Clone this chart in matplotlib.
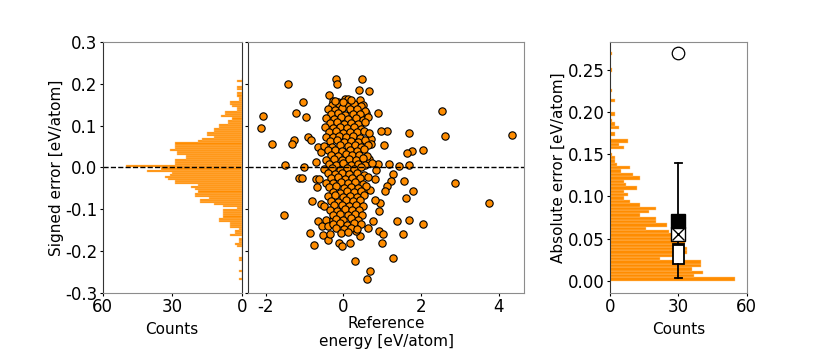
import numpy as np
import matplotlib
matplotlib.use("Agg")
from matplotlib import pyplot as plt

plt.rcParams['axes.unicode_minus'] = False
plt.rcParams['font.size'] = 12
plt.rcParams['axes.labelsize'] = 11

# signed error histogram, bins of 0.005 starting at -0.270
signed_counts = [1, 0, 0, 0, 1, 0, 0, 0, 0, 1, 1, 0, 0, 0, 0, 0, 2, 3, 1, 1,
                 0, 5, 3, 3, 1, 5, 5, 5, 10, 10, 8, 8, 8, 8, 2, 8, 12, 18, 18,
                 14, 20, 20, 19, 20, 22, 19, 29, 29, 32, 33, 31, 30, 41, 35,
                 50, 29, 29, 29, 24, 24, 28, 28, 31, 29, 29, 29, 19, 17, 12, 15,
                 15, 12, 12, 10, 10, 6, 6, 4, 9, 7, 7, 2, 2, 4, 5, 5, 1, 1, 2,
                 2, 0, 2, 2, 0, 0, 2, 0]
signed_bins = np.round(np.linspace(-0.270, 0.210, len(signed_counts)), 3)

# absolute error histogram, bins of 0.004 starting at 0
abs_counts = [55, 37, 41, 36, 40, 40, 22, 32, 34, 34, 32, 33, 33, 29, 26, 16,
              25, 20, 20, 13, 17, 20, 13, 9, 6, 8, 6, 12, 7, 6, 13, 10, 5, 9,
              3, 2, 2, 1, 0, 6, 4, 8, 0, 2, 0, 4, 2, 1, 0, 2, 0, 0, 0, 2, 0,
              0, 1, 0, 0, 0, 0, 0, 1, 0, 0, 0, 0, 1]
abs_bins = np.round(np.linspace(0.0, 0.268, len(abs_counts)), 3)

# summary statistics of absolute error
abs_q1, abs_med, abs_q3 = 0.020, 0.042, 0.044
abs_lo, abs_hi = 0.003, 0.140
abs_mae = 0.055
abs_rmse = 0.071
abs_max = 0.270

# scatter: reference energy vs signed error
ref_energy = [
    -1.42, -2.06, -2.12, -1.84, -1.50, -1.52, -1.03, -1.23, -0.97, -1.27,
    -1.32, -1.01, -1.14, -1.08, -0.91, -0.84, -0.82, -0.86, -0.75, -0.65,
    -0.55, -0.52, -0.41, -0.35, -0.11, -0.03, 0.18, 0.29, 0.67, 0.61,
    0.42, 0.33, 0.63, 0.76, 0.91, 1.00, 1.02, 1.27, 1.37, 1.53,
    1.68, 2.05, 1.61, 1.78, 1.57, 1.28, 1.23, 1.11, 1.08, 0.94,
    0.91, 2.86, 3.76, 4.34, 2.61, 2.54, 2.05, 1.76, 1.64, 1.68,
    1.43, 1.70, 1.17, 0.90, 1.12, 0.97, 1.04, 0.90, 0.66, 0.39,
    0.48, -0.20, -0.16, -0.37, 0.03, 0.12, -0.14, -0.28, 0.42, 0.50,
    0.25, 0.57, 0.70, 0.71, 0.65, 0.85, 0.82, 0.56, 0.67, 0.80,
    -0.72, -0.65, -0.58, -0.72, -0.69, -0.62, -0.58, -0.50, -0.46, -0.39,
    -0.27,
    -0.30, -0.12, 0.08, 0.27, 0.44,
    -0.40, -0.21, -0.03, 0.16, 0.36, 0.55,
    -0.33, -0.14, 0.04, 0.24, 0.42,
    -0.44, -0.25, -0.07, 0.12, 0.31, 0.49, 0.63,
    -0.36, -0.17, 0.01, 0.19, 0.38, 0.56,
    -0.47, -0.28, -0.09, 0.10, 0.27, 0.45,
    -0.38, -0.20, -0.01, 0.17, 0.35, 0.53, 0.66,
    -0.45, -0.27, -0.11, 0.07, 0.24, 0.43,
    -0.35, -0.17, 0.02, 0.20, 0.37, 0.56,
    -0.49, -0.29, -0.08, 0.11, 0.29, 0.46, 0.64,
    -0.39, -0.21, -0.03, 0.16, 0.34, 0.52,
    -0.31, -0.13, 0.06, 0.23, 0.41, 0.60,
    -0.46, -0.25, -0.05, 0.13, 0.31, 0.49,
    -0.37, -0.18, 0.00, 0.19, 0.38, 0.56, 0.74,
    -0.50, -0.29, -0.10, 0.09, 0.27, 0.45,
    -0.41, -0.22, -0.04, 0.15, 0.34, 0.53,
    -0.33, -0.14, 0.05, 0.23, 0.42, 0.62,
    -0.45, -0.26, -0.07, 0.11, 0.30, 0.49,
    -0.37, -0.18, 0.01, 0.19, 0.37, 0.57,
    -0.28, -0.10, 0.09, 0.27, 0.45,
    -0.41, -0.21, -0.02, 0.16, 0.35, 0.53,
    -0.32, -0.13, 0.06, 0.24, 0.43,
    -0.25, -0.05, 0.13, 0.32, 0.51,
    -0.35, -0.16, 0.03, 0.21, 0.40,
    -0.27, -0.08, 0.11, 0.29, 0.48,
    -0.19, 0.00, 0.19, 0.37,
    -0.28, -0.10, 0.08, 0.26, 0.44,
    -0.18, 0.02, 0.20, 0.36,
    -0.22, 0.00, 0.20,
    -0.06, 0.12,
]
signed_error = [
    0.199, 0.124, 0.094, 0.057, 0.006, -0.114, 0.157, 0.131, 0.120, 0.067,
    0.057, 0.001, -0.026, -0.026, 0.073, 0.066, -0.080, -0.156, -0.185, -0.128,
    -0.140, -0.161, -0.173, -0.160, -0.180, -0.189, -0.180, -0.223, -0.247, -0.267,
    -0.164, -0.152, -0.144, -0.127, -0.152, -0.180, -0.160, -0.218, -0.127, -0.159,
    -0.125, -0.135, -0.072, -0.056, -0.033, -0.016, -0.032, -0.044, -0.056, -0.084,
    -0.105, -0.036, -0.085, 0.079, 0.076, 0.136, 0.041, 0.040, 0.034, 0.083,
    0.004, 0.006, 0.008, 0.008, 0.088, 0.088, 0.053, 0.130, 0.183, 0.186,
    0.213, 0.212, 0.199, 0.174, 0.165, 0.165, 0.157, 0.159, 0.162, 0.149,
    0.149, 0.130, 0.068, 0.057, 0.020, -0.006, -0.028, -0.053, -0.054, -0.078,
    0.012, 0.050, 0.038, -0.028, -0.046, -0.028, -0.087, -0.093, -0.125, -0.139,
    -0.125,
    0.150, 0.152, 0.148, 0.151, 0.147,
    0.140, 0.137, 0.142, 0.139, 0.141, 0.136,
    0.128, 0.130, 0.126, 0.129, 0.127,
    0.118, 0.116, 0.120, 0.117, 0.119, 0.115, 0.121,
    0.106, 0.108, 0.104, 0.107, 0.105, 0.109,
    0.096, 0.094, 0.098, 0.095, 0.097, 0.093,
    0.085, 0.087, 0.083, 0.086, 0.084, 0.088, 0.082,
    0.074, 0.072, 0.076, 0.073, 0.075, 0.071,
    0.063, 0.065, 0.061, 0.064, 0.062, 0.066,
    0.052, 0.050, 0.054, 0.051, 0.053, 0.049, 0.055,
    0.041, 0.043, 0.039, 0.042, 0.040, 0.044,
    0.030, 0.028, 0.032, 0.029, 0.031, 0.027,
    0.019, 0.021, 0.017, 0.020, 0.018, 0.022,
    0.008, 0.006, 0.010, 0.007, 0.009, 0.005, 0.011,
    -0.003, -0.001, -0.005, -0.002, -0.004, 0.000,
    -0.014, -0.016, -0.012, -0.015, -0.013, -0.017,
    -0.025, -0.023, -0.027, -0.024, -0.026, -0.022,
    -0.036, -0.038, -0.034, -0.037, -0.035, -0.039,
    -0.047, -0.045, -0.049, -0.046, -0.048, -0.044,
    -0.058, -0.060, -0.056, -0.059, -0.057,
    -0.069, -0.067, -0.071, -0.068, -0.070, -0.066,
    -0.080, -0.082, -0.078, -0.081, -0.079,
    -0.091, -0.089, -0.093, -0.090, -0.092,
    -0.102, -0.104, -0.100, -0.103, -0.101,
    -0.113, -0.111, -0.115, -0.112, -0.114,
    -0.124, -0.126, -0.122, -0.125,
    -0.135, -0.133, -0.137, -0.134, -0.136,
    -0.146, -0.148, -0.144, -0.147,
    0.160, 0.158, 0.161,
    -0.157, -0.155,
]

orange = 'darkorange'
grey = '#8c8c8c'

fig = plt.figure(figsize=(8.3, 3.56), dpi=100)
ax1 = fig.add_axes([0.1237, 0.1778, 0.1675, 0.7034])
ax2 = fig.add_axes([0.2992, 0.1778, 0.3322, 0.7034], sharey=ax1)
ax3 = fig.add_axes([0.7349, 0.1778, 0.1647, 0.7034])

# left: signed error histogram
ax1.barh(signed_bins, signed_counts, height=0.005, align='edge', color=orange,
         edgecolor='#ffc680', linewidth=0.3)
ax1.axhline(0, color='k', ls='--', lw=1)
ax1.set_xlim(60, 0)
ax1.set_ylim(-0.3, 0.3)
ax1.set_xticks([60, 30, 0])
ax1.set_yticks(np.round(np.arange(-0.3, 0.31, 0.1), 1))
ax1.set_xlabel('Counts', labelpad=4)
ax1.set_ylabel('Signed error [eV/atom]', labelpad=0.5)

# middle: scatter
ax2.scatter(ref_energy, signed_error, s=28, color=orange, edgecolor='k',
            linewidth=0.8, zorder=3)
ax2.axhline(0, color='k', ls='--', lw=1, zorder=4)
ax2.set_xlim(-2.45, 4.65)
ax2.set_xticks([-2, 0, 2, 4])
ax2.tick_params(labelleft=False)
ax2.set_xlabel('Reference\nenergy [eV/atom]', labelpad=0)

# right: absolute error histogram + summary
ax3.barh(abs_bins, abs_counts, height=0.004, align='edge', color=orange,
         edgecolor='#ffc680', linewidth=0.3)
stats = [dict(med=abs_med, q1=abs_q1, q3=abs_q3, whislo=abs_lo, whishi=abs_hi,
              fliers=[])]
ax3.bxp(stats, positions=[30], widths=5, capwidths=3.2, patch_artist=True,
        showfliers=False,
        boxprops=dict(facecolor='white', edgecolor='k', lw=1.3),
        whiskerprops=dict(color='k', lw=1.3), capprops=dict(color='k', lw=1.3),
        medianprops=dict(color='k', lw=1.3), manage_ticks=False)
ax3.plot([30], [abs_mae], marker='s', ms=9.5, mfc='white', mec='k', mew=1, zorder=5)
ax3.plot([30], [abs_mae], marker='x', ms=8, mec='k', mew=1, zorder=6)
ax3.plot([30], [abs_rmse], marker='s', ms=9.5, mfc='k', mec='k', zorder=6)
ax3.plot([30], [abs_max], marker='o', ms=9, mfc='none', mec='k', mew=0.9)
ax3.set_xlim(0, 60)
ax3.set_ylim(-0.0143, 0.283)
ax3.set_xticks([0, 30, 60])
ax3.set_yticks([0.0, 0.05, 0.10, 0.15, 0.20, 0.25])
ax3.set_yticklabels(['0.00', '0.05', '0.10', '0.15', '0.20', '0.25'])
ax3.set_xlabel('Counts', labelpad=4)
ax3.set_ylabel('Absolute error [eV/atom]', labelpad=1.5)

for ax in (ax1, ax2, ax3):
    ax.tick_params(length=2.5, pad=1.5)
    for sp in ax.spines.values():
        sp.set_color(grey)
    ax.spines['left'].set_color('#333333')
ax1.spines['right'].set_color('#333333')

fig.savefig('out.png', dpi=100)
